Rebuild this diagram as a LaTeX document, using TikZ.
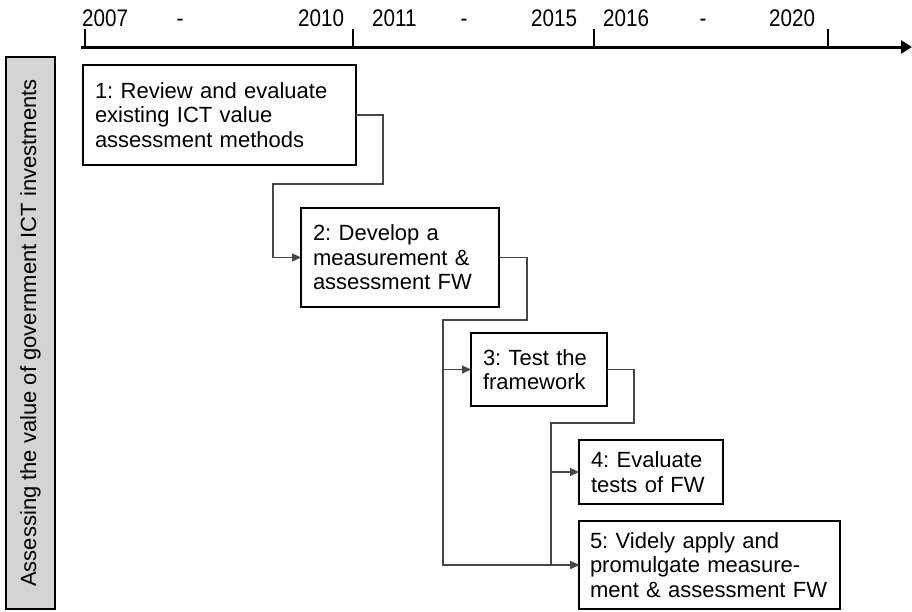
\documentclass[tikz,border=0pt]{standalone}
\usepackage{fontspec}
\setmainfont{Liberation Sans}
\newfontfamily\yearfont{Liberation Sans}[FakeStretch=0.86]
\usetikzlibrary{arrows.meta}
\definecolor{panelgray}{RGB}{212,212,212}
\definecolor{linkgray}{RGB}{70,70,70}
\frenchspacing

\begin{document}
\begin{tikzpicture}[x=1pt,y=-1pt,
  txt/.style={font=\fontsize{22}{24.5}\selectfont\frenchspacing},
  stagebox/.style={draw, line width=2.5pt, outer sep=0pt, inner xsep=12pt,
    inner ysep=0pt, align=left, txt},
  link/.style={draw=linkgray, line width=1.2pt},
  linkarrow/.style={link, -{Triangle[length=9pt,width=8pt]}},
  yearlabel/.style={font=\yearfont\fontsize{24}{26}\selectfont, inner sep=0pt, anchor=base west},
  dashlabel/.style={yearlabel, anchor=base},
  tickmark/.style={line width=1.5pt}]

\useasboundingbox (0,0) rectangle (912,611);

% time axis
\coordinate (axisstart) at (81,47);
\coordinate (axisend) at (912,47);
\draw[line width=3pt, -{Triangle[length=11pt,width=13pt]}] (axisstart) -- (axisend);
\foreach \tx/\tn in {85/ta,353/tb,594/tc,828/td}{
  \coordinate (\tn) at (\tx,47);
  \draw[tickmark] (\tn) -- ++(0,-18);
}

% period labels
\node[yearlabel] (y2007) at (82,26) {2007};
\node[dashlabel] (d1) at (180,26) {-};
\node[yearlabel] (y2010) at (298,26) {2010};
\node[yearlabel] (y2011) at (372,26) {2011};
\node[dashlabel] (d2) at (464,26) {-};
\node[yearlabel] (y2015) at (531,26) {2015};
\node[yearlabel] (y2016) at (603,26) {2016};
\node[dashlabel] (d3) at (703,26) {-};
\node[yearlabel] (y2020) at (769,26) {2020};

% side panel
\node[draw, line width=2pt, fill=panelgray, rotate=90, outer sep=0pt,
  minimum width=552pt, minimum height=49pt, inner sep=0pt, txt] (side) at (30.5,333)
  {Assessing the value of government ICT investments};

% stages
\node[stagebox, text width=249pt, minimum height=100pt] (b1) at (219.5,115)
  {1: Review and evaluate\\existing ICT value\\assessment methods\\[-5pt]};
\node[stagebox, text width=174pt, minimum height=99pt] (b2) at (400,257.5)
  {2: Develop a\\measurement \&\\assessment FW};
\node[stagebox, text width=112pt, minimum height=73pt] (b3) at (539,369.5)
  {3: Test the\\framework};
\node[stagebox, text width=120pt, minimum height=64pt] (b4) at (651,472)
  {4: Evaluate\\tests of FW};
\node[stagebox, text width=239pt, inner xsep=11pt, minimum height=88pt] (b5) at (709.5,565)
  {5: Videly apply and\\promulgate measure-\\ment \& assessment FW};

% connectors
\coordinate (v1) at (273,184);
\coordinate (v2) at (443,320);
\coordinate (v3) at (551,423);

\draw[linkarrow] (b1.east) -- ++(27,0) |- (v1) |- (b2.west);
\draw[linkarrow] (b2.east) -- ++(28,0) |- (v2) |- (b5.west);
\draw[linkarrow] (v2 |- b3.west) -- (b3.west);
\draw[linkarrow] (b3.east) -- ++(27,0) |- (v3) |- (b5.west);
\draw[linkarrow] (v3 |- b4.west) -- (b4.west);

\end{tikzpicture}
\end{document}
